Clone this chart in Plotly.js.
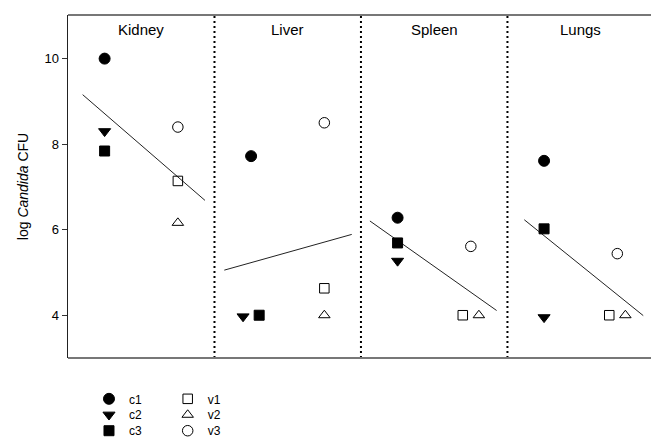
<!DOCTYPE html>
<html>
<head>
<meta charset="utf-8">
<script src="https://cdn.plot.ly/plotly-3.0.1.min.js"></script>
<style>html,body{margin:0;padding:0;background:#fff;}#chart{width:651px;height:438px;}</style>
</head>
<body>
<div id="chart"></div>
<script>
// ---- data (log Candida CFU) ----
const organs = ['Kidney', 'Liver', 'Spleen', 'Lungs'];
const c1 = [10.0, 7.72, 6.28, 7.61];
const c2 = [8.30, 3.97, 5.27, 3.95];
const c3 = [7.84, 4.00, 5.69, 6.02];
const v1 = [7.14, 4.63, 4.00, 4.00];
const v2 = [6.16, 4.00, 4.00, 4.00];
const v3 = [8.40, 8.50, 5.61, 5.44];
const yTicks = [4, 6, 8, 10];
const seriesNames = ['c1', 'c2', 'c3', 'v1', 'v2', 'v3'];

// ---- layout helpers (positions within each organ panel) ----
const cPos = 0.25, vPos = 0.75;
const jitter = {
  c1: [0, 0, 0, 0], c2: [0, -0.055, 0, 0], c3: [0, 0.055, 0, 0],
  v1: [0, 0, -0.055, -0.055], v2: [0, 0, 0.055, 0.055], v3: [0, 0, 0, 0]
};
const fitExtent = [[0.10, 0.935], [0.067, 0.937], [0.061, 0.926], [0.115, 0.927]];

const font = 'Liberation Sans, Arial, Helvetica, sans-serif';
const values = {c1, c2, c3, v1, v2, v3};
const style = {
  c1: {pos: cPos, sym: 'circle', size: 11},
  c2: {pos: cPos, sym: 'triangle-down', size: 10.5},
  c3: {pos: cPos, sym: 'square', size: 10},
  v1: {pos: vPos, sym: 'square-open', size: 9.5},
  v2: {pos: vPos, sym: 'triangle-up-open', size: 10},
  v3: {pos: vPos, sym: 'circle-open', size: 10.5}
};
// key layout: two columns (c / v), three rows
const keyColX = [0.036, 0.171];
const keyRowY = [-0.119, -0.1655, -0.212];

const traces = [];
// regression lines per organ (group c vs group v)
organs.forEach((o, i) => {
  const mc = (c1[i] + c2[i] + c3[i]) / 3;
  const mv = (v1[i] + v2[i] + v3[i]) / 3;
  const slope = (mv - mc) / (vPos - cPos);
  const xs = fitExtent[i].map(f => i + f);
  const ys = fitExtent[i].map(f => mc + slope * (f - cPos));
  traces.push({x: xs, y: ys, mode: 'lines', type: 'scatter', showlegend: false,
    line: {color: '#222', width: 1}, hoverinfo: 'skip'});
});
const legendLayouts = {};
seriesNames.forEach((n, k) => {
  const s = style[n];
  const legId = k === 0 ? 'legend' : 'legend' + (k + 1);
  traces.push({
    x: organs.map((o, i) => i + s.pos + jitter[n][i]),
    y: values[n], name: n, mode: 'markers', type: 'scatter', showlegend: true, legend: legId,
    marker: {symbol: s.sym, size: s.size, color: '#000', line: {color: '#000', width: 1}}
  });
  legendLayouts[legId] = {
    x: keyColX[Math.floor(k / 3)], xanchor: 'left', y: keyRowY[k % 3], yanchor: 'middle',
    xref: 'paper', yref: 'paper', bgcolor: 'rgba(0,0,0,0)', borderwidth: 0,
    font: {family: font, size: 12, color: '#000'}
  };
});

const shapes = [];
[1, 2, 3].forEach(i => shapes.push({type: 'line', xref: 'x', yref: 'paper', x0: i, x1: i, y0: 0, y1: 1,
  line: {color: '#000', width: 2, dash: '2px,3px'}}));
shapes.push({type: 'line', xref: 'paper', yref: 'paper', x0: 0, x1: 1, y0: 1, y1: 1, line: {color: '#777', width: 2}});
shapes.push({type: 'line', xref: 'paper', yref: 'paper', x0: 0, x1: 1, y0: 0, y1: 0, line: {color: '#777', width: 2}});

const annotations = organs.map((o, i) => ({x: i + 0.5, y: 10.67, xref: 'x', yref: 'y', text: o,
  showarrow: false, font: {family: font, size: 15, color: '#000'}}));

const layout = Object.assign({
  width: 651, height: 438,
  margin: {l: 68, r: 0, t: 15, b: 80, autoexpand: false},
  paper_bgcolor: '#fff', plot_bgcolor: '#fff',
  font: {family: font, color: '#000'},
  showlegend: true,
  xaxis: {range: [0, 3.98], showgrid: false, zeroline: false, showticklabels: false, ticks: '', showline: false},
  yaxis: {range: [3.0, 11.02], tickvals: yTicks, ticktext: yTicks.map(String), ticks: 'outside', ticklen: 5,
    tickcolor: '#333', showgrid: false, zeroline: false, showline: true, linecolor: '#222', linewidth: 1.5,
    tickfont: {family: font, size: 13, color: '#000'},
    title: {text: 'log <i>Candida</i> CFU', font: {family: font, size: 14, color: '#000'}, standoff: 12}},
  shapes: shapes, annotations: annotations
}, legendLayouts);
Plotly.newPlot('chart', traces, layout, {staticPlot: true, displayModeBar: false});
</script>
</body>
</html>
